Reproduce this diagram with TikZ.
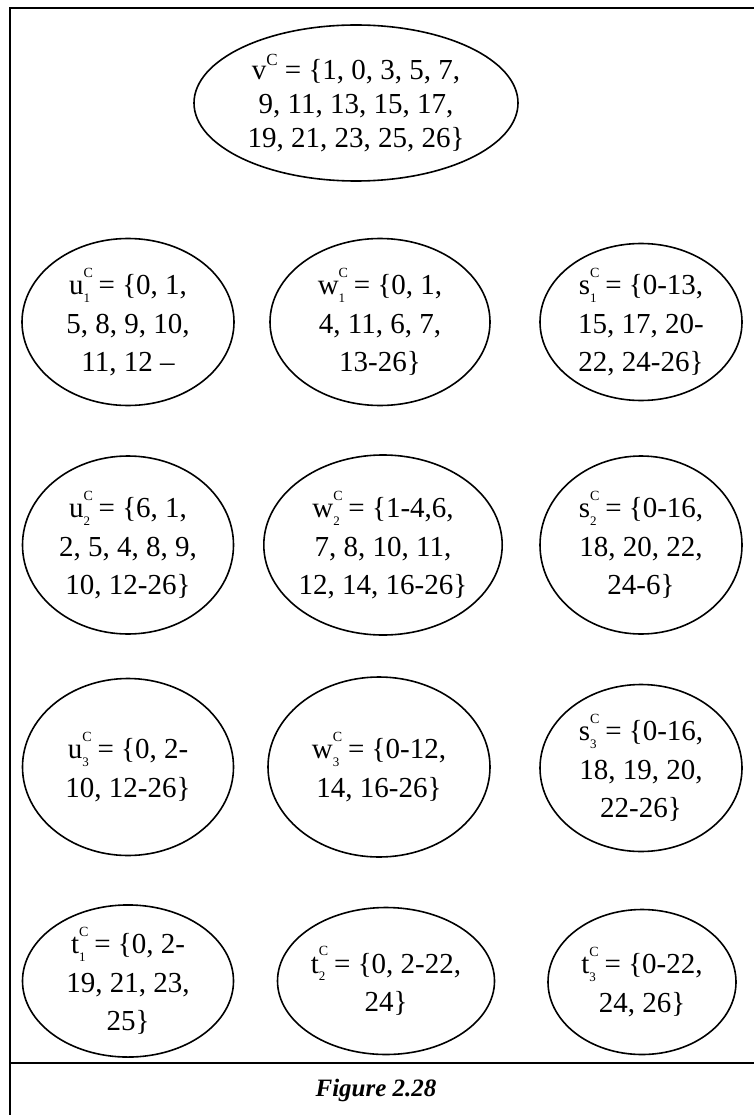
\documentclass[tikz,border=0pt]{standalone}
\usepackage{fontspec}
\setmainfont{Liberation Serif}
\usetikzlibrary{shapes.geometric}
\newcommand{\setc}[2]{#1\makebox[0pt][l]{\raisebox{0.6em}{\fontsize{14}{14}\selectfont C}}\raisebox{-0.27em}{\fontsize{13}{13}\selectfont #2}\hspace{0.3em}}
\tikzset{
  setnode/.style={ellipse, draw, line width=1.6pt, inner sep=0pt, align=center,
    font=\fontsize{29}{38.5}\selectfont},
  frameline/.style={line width=2.4pt}
}
\begin{document}
\begin{tikzpicture}[x=1pt,y=-1pt]
\useasboundingbox (0,0) rectangle (754,1115);
\fill[white] (0,0) rectangle (754,1115);
\coordinate (tl) at (10,8);
\coordinate (tr) at (754,8);
\coordinate (bl) at (10,1115);
\coordinate (sl) at (10,1063);
\coordinate (sr) at (754,1063);
\draw[frameline] (tr) -- (tl) -- (bl);
\draw[frameline] (sl) -- (sr);

\node[setnode, minimum width=324pt, minimum height=156pt, font=\fontsize{29}{34}\selectfont] (v) at (356,103)
 {v\raisebox{0.5em}{\fontsize{17}{17}\selectfont C} = \{1, 0, 3, 5, 7,\\ 9, 11, 13, 15, 17,\\ 19, 21, 23, 25, 26\}};

\node[setnode, minimum width=212pt, minimum height=167pt] (u1) at (128,322)
 {\setc{u}{1}= \{0, 1,\\ 5, 8, 9, 10,\\ 11, 12 --};
\node[setnode, minimum width=220pt, minimum height=167pt] (w1) at (380,322)
 {\setc{w}{1}= \{0, 1,\\ 4, 11, 6, 7,\\ 13-26\}};
\node[setnode, minimum width=202pt, minimum height=157pt] (s1) at (641,322)
 {\setc{s}{1}= \{0-13,\\ 15, 17, 20-\\ 22, 24-26\}};

\node[setnode, minimum width=211pt, minimum height=178pt] (u2) at (128,545)
 {\setc{u}{2}= \{6, 1,\\ 2, 5, 4, 8, 9,\\ 10, 12-26\}};
\node[setnode, minimum width=227pt, minimum height=180pt] (w2) at (383,545)
 {\setc{w}{2}= \{1-4,6,\\ 7, 8, 10, 11,\\ 12, 14, 16-26\}};
\node[setnode, minimum width=202pt, minimum height=178pt] (s2) at (641,545)
 {\setc{s}{2}= \{0-16,\\ 18, 20, 22,\\ 24-6\}};

\node[setnode, minimum width=211pt, minimum height=177pt] (u3) at (128,767)
 {\setc{u}{3}= \{0, 2-\\ 10, 12-26\}};
\node[setnode, minimum width=222pt, minimum height=180pt] (w3) at (379,767)
 {\setc{w}{3}= \{0-12,\\ 14, 16-26\}};
\node[setnode, minimum width=202pt, minimum height=167pt] (s3) at (641,768)
 {\setc{s}{3}= \{0-16,\\ 18, 19, 20,\\ 22-26\}};

\node[setnode, minimum width=211pt, minimum height=152pt] (t1) at (128,981)
 {\setc{t}{1}= \{0, 2-\\ 19, 21, 23,\\ 25\}};
\node[setnode, minimum width=217pt, minimum height=147pt] (t2) at (386,981)
 {\setc{t}{2}= \{0, 2-22,\\ 24\}};
\node[setnode, minimum width=188pt, minimum height=145pt] (t3) at (642,982)
 {\setc{t}{3}= \{0-22,\\ 24, 26\}};

\node[font=\fontsize{25}{30}\selectfont\bfseries\itshape] (cap) at (376,1090) {Figure 2.28};
\end{tikzpicture}
\end{document}
